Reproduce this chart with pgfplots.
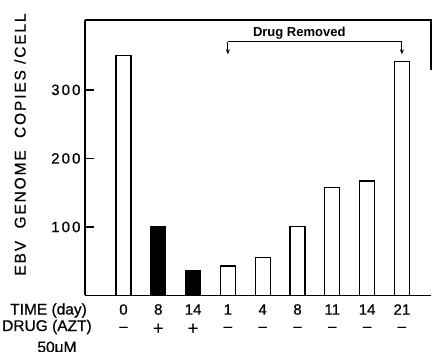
\documentclass[border=0pt]{standalone}
\usepackage{fontspec}
\setmainfont{Liberation Sans}[UprightFeatures={FakeBold=0.6}]
\newfontfamily\wide{Liberation Sans}[LetterSpace=12, UprightFeatures={FakeBold=0.6}]
\newfontfamily\num{Liberation Sans}[LetterSpace=14, UprightFeatures={FakeBold=0.6}]
\usepackage{pgfplots}
\pgfplotsset{compat=1.18}
\usetikzlibrary{arrows.meta}
\begin{document}
\begin{tikzpicture}[x=1pt,y=1pt]
\useasboundingbox (-85,-56.5) rectangle (347,295.5);
\begin{axis}[
  at={(0,0)}, anchor=south west,
  scale only axis, width=346pt, height=275.5pt,
  xmin=-1.106, xmax=8.836, ymin=0, ymax=402,
  axis x line=bottom, axis y line=left,
  axis line style={-, line width=1.3pt},
  ybar, bar width=15pt, bar shift=0pt,
  xtick={0,...,8},
  xticklabels={0,8,14,1,4,8,11,14,21},
  xticklabel style={anchor=center, inner sep=0pt, yshift=-14pt, font=\fontsize{15}{15}\selectfont},
  x tick style={draw=none},
  ytick={100,200,300}, tick align=inside, major tick length=9pt,
  y tick style={line width=1.3pt, black},
  yticklabel style={font=\num\fontsize{15}{15}\selectfont, xshift=-1pt},
  /pgf/number format/assume math mode=true,
  clip=false,
]
\addplot[draw=black, fill=white, line width=1.1pt] coordinates {(0,350) (3,43) (4,55) (5,101) (6,157) (7,167) (8,342)};
\addplot[draw=black, fill=black, line width=1.1pt] coordinates {(1,101) (2,37)};
\draw[line width=1.2pt] (rel axis cs:0,1) -- (rel axis cs:1,1) -- (rel axis cs:1,0.818);
\draw[line width=1pt, -{Stealth[length=5pt,width=4pt]}] (axis cs:3,370) -- (axis cs:8,370) -- (axis cs:8,352);
\draw[line width=1pt, -{Stealth[length=5pt,width=4pt]}] (axis cs:3,370) -- (axis cs:3,352);
\node[font=\bfseries\fontsize{13}{13}\selectfont] at (axis cs:5.05,383) {Drug Removed};
\pgfplotsinvokeforeach{0,3,4,5,6,7,8}{
  \node[font=\fontsize{15}{15}\selectfont, inner sep=0pt] at ([yshift=-33.5pt]axis cs:#1,0) {--};
}
\pgfplotsinvokeforeach{1,2}{
  \node[font=\fontsize{18}{18}\selectfont, inner sep=0pt] at ([yshift=-33.5pt]axis cs:#1,0) {+};
}
\end{axis}
\node[anchor=west, font=\fontsize{15.5}{15}\selectfont, inner sep=0pt] at (-75,-15) {TIME (day)};
\node[anchor=west, font=\fontsize{15.5}{15}\selectfont, inner sep=0pt] at (-83,-31.5) {DRUG (AZT)};
\node[font=\fontsize{15.5}{15}\selectfont] at (-28,-53) {50μM};
\node[rotate=90, font=\wide\fontsize{15.5}{15}\selectfont] at (-65,151) {EBV\ \ GENOME\ \ COPIES /CELL};
\end{tikzpicture}
\end{document}
